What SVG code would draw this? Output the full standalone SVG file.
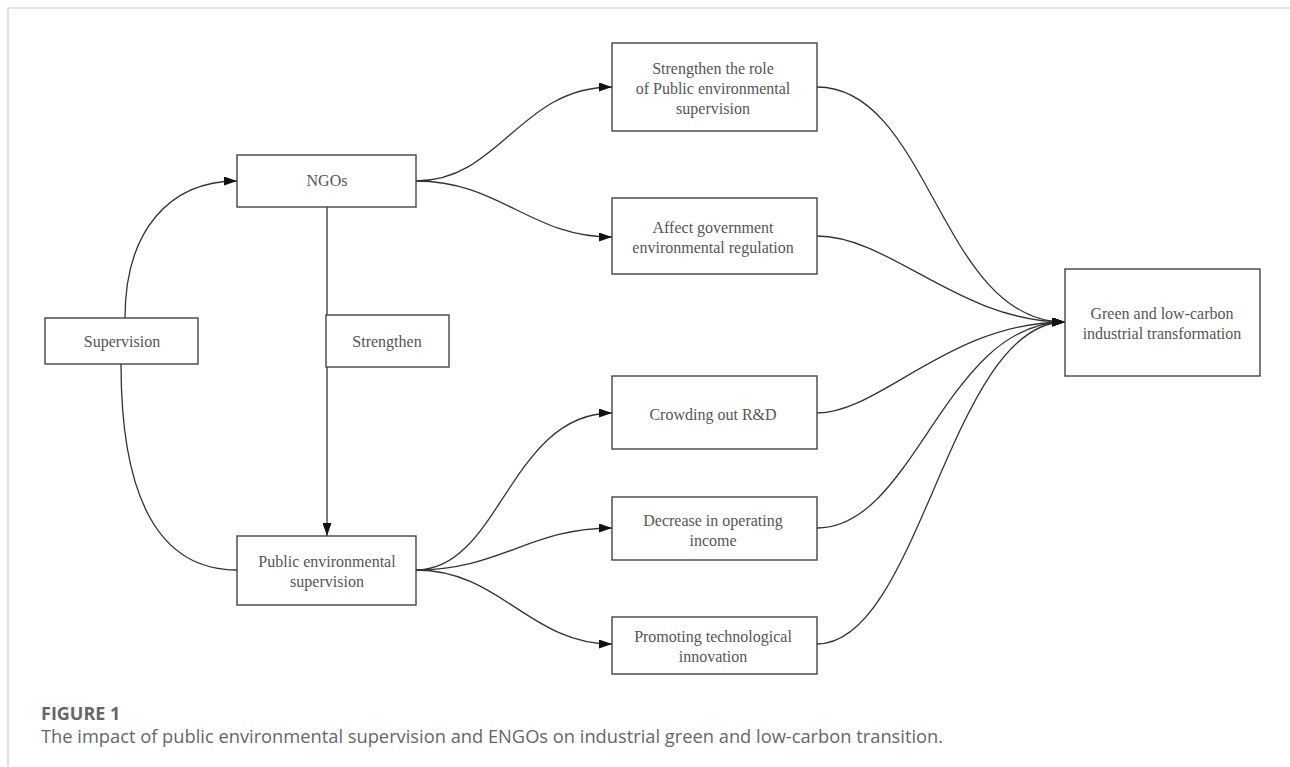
<svg xmlns="http://www.w3.org/2000/svg" width="1290" height="767" viewBox="0 0 1290 767">
<defs>
<style>
.box{fill:#fff;stroke:#444;stroke-width:1.4}
.lbl{font-family:"Liberation Serif","Times New Roman",serif;font-size:16px;fill:#555;text-anchor:middle}
.edge{fill:none;stroke:#333;stroke-width:1.3}
.frame{stroke:#ccc;stroke-width:1.2;fill:none}
.cap1{font-family:"Open Sans","Noto Sans",sans-serif;font-size:18px;font-weight:700;fill:#666}
.cap2{font-family:"Open Sans","Noto Sans",sans-serif;font-size:18.3px;fill:#666}
</style>
<marker id="arr" viewBox="0 0 13 9" refX="13" refY="4.5" markerWidth="13" markerHeight="9" markerUnits="userSpaceOnUse" orient="auto">
<path d="M0,0 L13,4.5 L0,9 Z" fill="#111"/>
</marker>
</defs>
<rect width="1290" height="767" fill="#fff"/>
<path class="frame" d="M8,767 V8 H1290"/>

<g id="connectors">
<path class="edge" marker-end="url(#arr)" d="M125,318 C125,230 170,181 237,181"/>
<path class="edge" d="M121,364 C121,500 160,570 237,570"/>
<path class="edge" marker-end="url(#arr)" d="M327,207 V536"/>
<path class="edge" marker-end="url(#arr)" d="M416,181 C500,181 520,87 612,87"/>
<path class="edge" marker-end="url(#arr)" d="M416,181 C500,181 530,237 612,237"/>
<path class="edge" marker-end="url(#arr)" d="M416,570 C500,570 510,413 612,413"/>
<path class="edge" marker-end="url(#arr)" d="M416,570 C500,570 530,528 612,528"/>
<path class="edge" marker-end="url(#arr)" d="M416,570 C500,570 530,644 612,644"/>
<path class="edge" marker-end="url(#arr)" d="M817,87 C930,87 940,322 1065,322"/>
<path class="edge" marker-end="url(#arr)" d="M817,236 C890,236 960,322 1065,322"/>
<path class="edge" marker-end="url(#arr)" d="M817,413 C880,413 950,322 1065,322"/>
<path class="edge" marker-end="url(#arr)" d="M817,528 C915,528 945,322 1065,322"/>
<path class="edge" marker-end="url(#arr)" d="M817,644 C920,644 950,322 1065,322"/>
</g>

<g id="supervision">
<rect class="box" x="45" y="318" width="153" height="46"/>
<text class="lbl" x="122" y="347">Supervision</text>
</g>
<g id="ngos">
<rect class="box" x="237" y="155" width="179" height="52"/>
<text class="lbl" x="327" y="186">NGOs</text>
</g>
<g id="strengthen">
<rect class="box" x="326" y="315" width="123" height="52"/>
<text class="lbl" x="387" y="347">Strengthen</text>
</g>
<g id="public">
<rect class="box" x="237" y="536" width="179" height="69"/>
<text class="lbl" x="327" y="567">Public environmental</text>
<text class="lbl" x="327" y="587">supervision</text>
</g>
<g id="role">
<rect class="box" x="612" y="43" width="205" height="88"/>
<text class="lbl" x="713" y="74">Strengthen the role</text>
<text class="lbl" x="713" y="94">of Public environmental</text>
<text class="lbl" x="713" y="114">supervision</text>
</g>
<g id="affect">
<rect class="box" x="612" y="198" width="205" height="76"/>
<text class="lbl" x="713" y="233">Affect government</text>
<text class="lbl" x="713" y="253">environmental regulation</text>
</g>
<g id="crowding">
<rect class="box" x="612" y="376" width="205" height="73"/>
<text class="lbl" x="713" y="420">Crowding out R&amp;D</text>
</g>
<g id="decrease">
<rect class="box" x="612" y="497" width="205" height="63"/>
<text class="lbl" x="713" y="526">Decrease in operating</text>
<text class="lbl" x="713" y="546">income</text>
</g>
<g id="promoting">
<rect class="box" x="612" y="617" width="205" height="57"/>
<text class="lbl" x="713" y="642">Promoting technological</text>
<text class="lbl" x="713" y="662">innovation</text>
</g>
<g id="green">
<rect class="box" x="1065" y="269" width="195" height="107"/>
<text class="lbl" x="1162" y="319">Green and low-carbon</text>
<text class="lbl" x="1162" y="339">industrial transformation</text>
</g>

<text class="cap1" x="41" y="720">FIGURE 1</text>
<text class="cap2" x="41" y="743">The impact of public environmental supervision and ENGOs on industrial green and low-carbon transition.</text>
</svg>
